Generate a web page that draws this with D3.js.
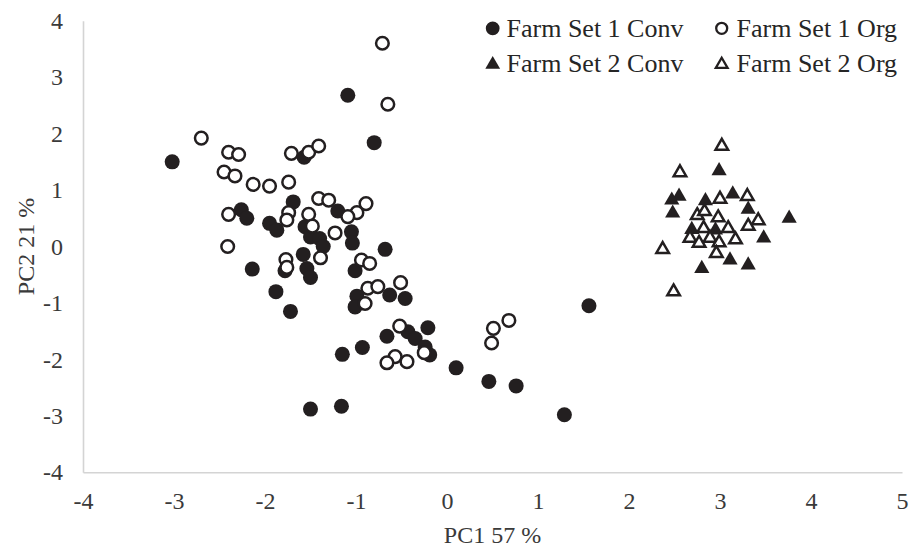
<!DOCTYPE html>
<html>
<head>
<meta charset="utf-8">
<script src="https://cdn.jsdelivr.net/npm/d3@7/dist/d3.min.js"></script>
<style>
  html, body { margin: 0; padding: 0; background: #fff; }
  svg { display: block; }
  text { font-family: "Liberation Serif", "Times New Roman", serif; }
</style>
</head>
<body>
<svg id="chart" width="912" height="554"></svg>
<script>
// PCA scores, [PC1, PC2] per sample
const farmSet1Conv = [
  [-3.02, 1.50], [-1.09, 2.68], [-0.80, 1.84], [-1.57, 1.58], [-1.69, 0.79],
  [-1.20, 0.63], [-2.26, 0.65], [-2.20, 0.50], [-1.95, 0.41], [-1.87, 0.29],
  [-1.56, 0.35], [-1.50, 0.17], [-1.40, 0.14], [-1.36, 0.00], [-1.58, -0.14],
  [-1.54, -0.39], [-1.50, -0.55], [-1.78, -0.43], [-2.14, -0.40], [-1.88, -0.80],
  [-1.72, -1.15], [-1.05, 0.26], [-1.04, 0.06], [-0.68, -0.05], [-1.01, -0.43],
  [-0.99, -0.88], [-1.01, -1.07], [-0.63, -0.86], [-0.46, -0.92], [-0.66, -1.59],
  [-0.43, -1.51], [-0.35, -1.63], [-0.21, -1.44], [-0.24, -1.78], [-0.19, -1.92],
  [-0.93, -1.79], [-1.15, -1.91], [0.10, -2.15], [0.46, -2.39], [0.76, -2.47],
  [1.56, -1.05], [-1.50, -2.88], [-1.16, -2.83], [1.29, -2.98]
];
const farmSet1Org = [
  [-0.71, 3.60], [-0.65, 2.52], [-2.70, 1.92], [-2.40, 1.67], [-2.29, 1.63],
  [-1.71, 1.65], [-1.52, 1.67], [-1.41, 1.78], [-2.45, 1.32], [-2.33, 1.25],
  [-2.13, 1.10], [-1.95, 1.07], [-1.74, 1.14], [-1.41, 0.85], [-1.30, 0.82],
  [-0.89, 0.76], [-0.99, 0.60], [-1.09, 0.53], [-2.40, 0.57], [-1.74, 0.60],
  [-1.76, 0.47], [-1.52, 0.57], [-1.48, 0.36], [-1.39, -0.20], [-1.77, -0.23],
  [-1.76, -0.37], [-2.41, 0.00], [-1.23, 0.24], [-0.94, -0.24], [-0.85, -0.30],
  [-0.87, -0.74], [-0.76, -0.71], [-0.90, -1.01], [-0.51, -0.64], [-0.52, -1.41],
  [-0.25, -1.88], [-0.57, -1.95], [-0.66, -2.06], [-0.44, -2.04], [0.51, -1.45],
  [0.68, -1.31], [0.49, -1.71]
];
const farmSet2Conv = [
  [2.99, 1.34], [2.55, 0.89], [2.47, 0.82], [2.48, 0.59], [2.84, 0.81],
  [3.14, 0.93], [3.31, 0.66], [3.76, 0.50], [2.69, 0.30], [2.95, 0.29],
  [3.48, 0.15], [3.11, -0.24], [3.31, -0.33], [2.80, -0.39]
];
const farmSet2Org = [
  [3.02, 1.78], [2.56, 1.31], [3.00, 0.84], [3.30, 0.89], [2.75, 0.55],
  [2.83, 0.62], [2.98, 0.51], [3.42, 0.46], [3.31, 0.36], [2.82, 0.32],
  [3.09, 0.32], [2.67, 0.15], [2.77, 0.06], [2.89, 0.15], [2.99, 0.07],
  [3.17, 0.12], [2.96, -0.12], [2.37, -0.05], [2.49, -0.80]
];
const seriesNames = ["Farm Set 1 Conv", "Farm Set 1 Org", "Farm Set 2 Conv", "Farm Set 2 Org"];
const xTicks = [-4, -3, -2, -1, 0, 1, 2, 3, 4, 5];
const yTicks = [-4, -3, -2, -1, 0, 1, 2, 3, 4];
const xTitle = "PC1 57 %";
const yTitle = "PC2 21 %";

const ink = "#231f20";
const series = [
  { name: seriesNames[0], data: farmSet1Conv, shape: d3.symbolCircle,   filled: true },
  { name: seriesNames[1], data: farmSet1Org,  shape: d3.symbolCircle,   filled: false },
  { name: seriesNames[2], data: farmSet2Conv, shape: d3.symbolTriangle, filled: true },
  { name: seriesNames[3], data: farmSet2Org,  shape: d3.symbolTriangle, filled: false }
];

const svg = d3.select("#chart");
const plot = { left: 83, right: 902, top: 20.7, bottom: 472.3 };

const x = d3.scaleLinear().domain([-4, 5]).range([plot.left, plot.right]);
const y = d3.scaleLinear().domain([-4, 4]).range([plot.bottom, plot.top]);

// plain hyphen-minus for negative tick values
const tickFmt = d => String(d);

function styleAxis(g) {
  g.select(".domain").attr("stroke", "#d4d4d4").attr("stroke-width", 1.6);
  g.selectAll(".tick line").remove();
  g.selectAll(".tick text")
    .attr("fill", "#3a3a3a")
    .style("font-family", "'Liberation Serif', 'Times New Roman', serif")
    .style("font-size", "24px");
}

svg.append("g")
  .attr("transform", `translate(${plot.left},0)`)
  .call(d3.axisLeft(y).tickValues(yTicks).tickSize(0).tickSizeOuter(0).tickPadding(20).tickFormat(tickFmt))
  .call(styleAxis);

svg.append("g")
  .attr("transform", `translate(0,${plot.bottom})`)
  .call(d3.axisBottom(x).tickValues(xTicks).tickSize(0).tickSizeOuter(0).tickPadding(20).tickFormat(tickFmt))
  .call(styleAxis);

// marker sizes (symbol areas)
function symbolSize(s) {
  if (s.shape === d3.symbolCircle) return s.filled ? 177 : 125;
  return s.filled ? 100 : 68;
}

series.forEach(s => {
  const sym = d3.symbol().type(s.shape).size(symbolSize(s));
  svg.append("g")
    .selectAll("path")
    .data(s.data)
    .join("path")
    .attr("d", sym)
    .attr("transform", d => `translate(${x(d[0])},${y(d[1])})`)
    .attr("fill", s.filled ? ink : "#ffffff")
    .attr("stroke", s.filled ? "none" : ink)
    .attr("stroke-width", s.filled ? 0 : 2.5);
});

// legend, two columns by two rows
const legendPos = [
  { mx: 492.7, tx: 506.5, my: 28.3, base: 36.7 },
  { mx: 721.7, tx: 736.5, my: 28.3, base: 36.7 },
  { mx: 492.7, tx: 506.5, my: 64.5, base: 71.7 },
  { mx: 721.7, tx: 736.5, my: 64.5, base: 71.7 }
];
const legend = svg.append("g");
series.forEach((s, i) => {
  const p = legendPos[i];
  const isCircle = s.shape === d3.symbolCircle;
  const size = isCircle ? (s.filled ? 150 : 95) : (s.filled ? 95 : 60);
  legend.append("path")
    .attr("d", d3.symbol().type(s.shape).size(size))
    .attr("transform", `translate(${p.mx},${p.my})`)
    .attr("fill", s.filled ? ink : "#ffffff")
    .attr("stroke", s.filled ? "none" : ink)
    .attr("stroke-width", s.filled ? 0 : 2.3);
  legend.append("text")
    .attr("x", p.tx)
    .attr("y", p.base)
    .attr("fill", "#262626")
    .style("font-size", "26px")
    .text(s.name);
});

// axis titles
svg.append("text")
  .attr("x", (plot.left + plot.right) / 2)
  .attr("y", 535)
  .attr("dy", "0.34em")
  .attr("text-anchor", "middle")
  .attr("fill", "#3a3a3a")
  .style("font-size", "24px")
  .text(xTitle);

svg.append("text")
  .attr("transform", `translate(26,${(plot.top + plot.bottom) / 2}) rotate(-90)`)
  .attr("dy", "0.34em")
  .attr("text-anchor", "middle")
  .attr("fill", "#3a3a3a")
  .style("font-size", "24px")
  .text(yTitle);
</script>
</body>
</html>
